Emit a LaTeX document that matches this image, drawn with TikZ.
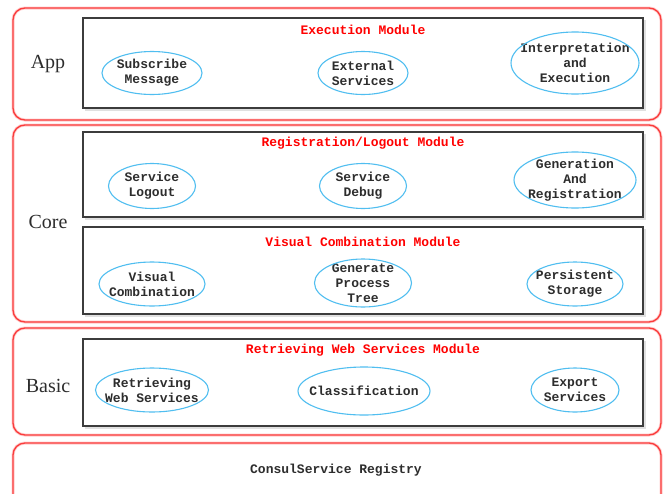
\documentclass[tikz,border=0pt]{standalone}
\usepackage{fontspec}
\setmainfont{Liberation Serif}
\newfontfamily\monob{Liberation Mono}
\definecolor{layerred}{RGB}{250,60,60}
\definecolor{layerglow}{RGB}{255,205,205}
\definecolor{ovalblue}{RGB}{80,190,240}
\definecolor{boxgray}{RGB}{60,60,60}
\definecolor{txtgray}{RGB}{45,45,45}
\tikzset{
  layer/.style={draw=layerred, line width=1.3pt, rounded corners=12pt},
  layerhalo/.style={draw=layerglow, line width=3pt, rounded corners=12pt},
  modbox/.style={draw=boxgray, line width=1.2pt, fill=white},
  modshadow/.style={fill=black!12},
  ovtext/.style={inner sep=0pt, text=txtgray, align=center,
    font=\monob\bfseries\fontsize{13}{15}\selectfont},
  ovalline/.style={draw=ovalblue, line width=1.1pt},
  modtitle/.style={text=red, font=\monob\bfseries\fontsize{13}{15}\selectfont},
  layername/.style={text=txtgray, font=\fontsize{20}{22}\selectfont},
  plaintxt/.style={text=txtgray, font=\monob\bfseries\fontsize{13}{15}\selectfont}
}
% a service oval: name, centre, x radius, y radius, text
\newcommand\svcoval[5]{%
  \node[ovtext] (#1) at (#2) {#5};
  \draw[ovalline] (#1.center) ellipse [x radius=#3, y radius=#4];
}
\begin{document}
\begin{tikzpicture}[x=1pt, y=-1pt]
\useasboundingbox (0,0) rectangle (664,493);
\clip (0,0) rectangle (664,493);
\fill[white] (0,0) rectangle (664,493);

% --- layer frames ---
\foreach \ya/\yb in {8/120, 125/322, 328/435, 443/520}{
  \draw[layerhalo] (13,\ya) rectangle (661,\yb);
  \draw[layer] (13,\ya) rectangle (661,\yb);
}

% --- module boxes ---
\foreach \ya/\yb in {18/108, 132/217, 227/314, 339/426}{
  \fill[modshadow] (85,\ya+2) rectangle (645.5,\yb+2.5);
  \draw[modbox] (83,\ya) rectangle (643,\yb);
}

% --- layer names ---
\node[layername] (app)   at (48,64)  {App};
\node[layername] (core)  at (48,222) {Core};
\node[layername] (basic) at (48,386) {Basic};

% --- App layer ---
\node[modtitle] (exec) at (363,30) {Execution Module};
\svcoval{sub}{152,73}{50}{21.5}{Subscribe\\Message}
\svcoval{ext}{363,73}{45}{21.5}{External\\Services}
\svcoval{interp}{575,63}{64}{31}{Interpretation\\and\\Execution}

% --- Core layer: registration / logout ---
\node[modtitle] (reg) at (363,143) {Registration/Logout Module};
\svcoval{logout}{152,186}{43.5}{22.5}{Service\\Logout}
\svcoval{debug}{363,186}{43.5}{22.5}{Service\\Debug}
\svcoval{genreg}{575,180}{61}{28}{Generation\\And\\Registration}

% --- Core layer: visual combination ---
\node[modtitle] (vis) at (363,242) {Visual Combination Module};
\svcoval{viscomb}{152,284}{53}{22}{Visual\\Combination}
\svcoval{tree}{363,283}{48.5}{24}{Generate\\Process\\Tree}
\svcoval{store}{575,284}{48}{22}{Persistent\\Storage}

% --- Basic layer ---
\node[modtitle] (retr) at (363,350) {Retrieving Web Services Module};
\svcoval{rws}{152,390}{56.5}{22}{Retrieving\\Web Services}
\svcoval{cls}{364,391}{66}{24}{Classification}
\svcoval{exp}{575,390}{44}{22}{Export\\Services}

% --- registry layer ---
\node[plaintxt] (consul) at (336,470) {ConsulService Registry};
\end{tikzpicture}
\end{document}
